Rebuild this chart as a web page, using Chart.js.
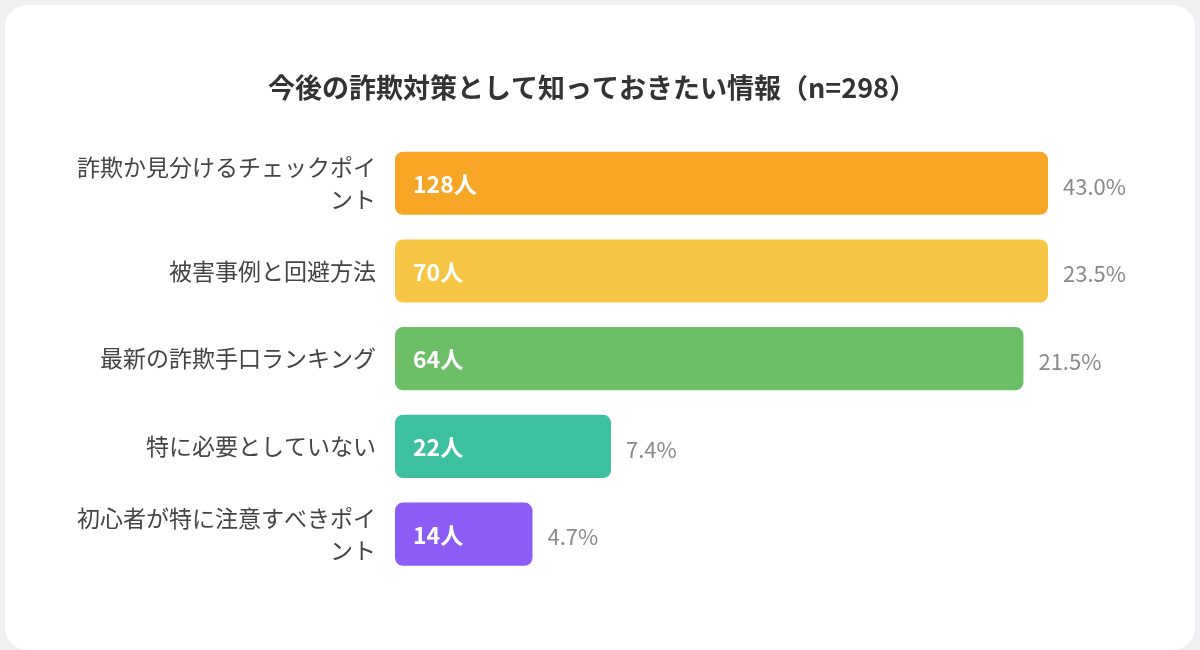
<!DOCTYPE html>
<html lang="ja">
<head>
<meta charset="UTF-8">
<title>今後の詐欺対策として知っておきたい情報</title>
<script src="https://cdn.jsdelivr.net/npm/chart.js@4.4.1/dist/chart.umd.min.js"></script>
<style>
    html, body {
        margin: 0;
        padding: 0;
        width: 1200px;
        height: 650px;
        overflow: hidden;
        background: #f0f0f2;
    }
    .card {
        position: absolute;
        left: 5px;
        top: 5px;
        width: 1190px;
        height: 645px;
        background: #ffffff;
        border-radius: 22px;
    }
    #chartBox {
        position: absolute;
        left: 0;
        top: 0;
        width: 1200px;
        height: 650px;
    }
</style>
</head>
<body>
<div class="card"></div>
<div id="chartBox"><canvas id="infoChart"></canvas></div>
<script>
// 項目ラベル（長いものは2行）
const categories = [
    ['詐欺か見分けるチェックポイ', 'ント'],
    '被害事例と回避方法',
    '最新の詐欺手口ランキング',
    '特に必要としていない',
    ['初心者が特に注意すべきポイ', 'ント']
];
// 人数
const counts = [128, 70, 64, 22, 14];
// 割合（%）
const percents = [43.0, 23.5, 21.5, 7.4, 4.7];
const barColors = ['#f6a524', '#f7c644', '#6cbe67', '#3cc0a0', '#8b5cf6'];

// 横軸の上限（上位2本はここで頭打ちになる）
const X_MAX = 66.5;

const FONT = '"Noto Sans CJK JP", "Noto Sans", sans-serif';

// バー内の人数とバー右の割合を描く
const valueLabels = {
    id: 'valueLabels',
    afterDatasetsDraw(chart) {
        const ctx = chart.ctx;
        const meta = chart.getDatasetMeta(0);
        ctx.save();
        ctx.textBaseline = 'middle';
        meta.data.forEach((bar, i) => {
            ctx.font = 'bold 23px ' + FONT;
            ctx.fillStyle = '#ffffff';
            ctx.textAlign = 'left';
            ctx.fillText(counts[i] + '人', bar.base + 18, bar.y + 1);

            ctx.font = '22px ' + FONT;
            ctx.fillStyle = '#8a8a8e';
            ctx.fillText(percents[i].toFixed(1) + '%', bar.x + 15, bar.y + 3);
        });
        ctx.restore();
    }
};

new Chart(document.getElementById('infoChart'), {
    type: 'bar',
    data: {
        labels: categories,
        datasets: [{
            data: counts.map(v => Math.min(v, X_MAX)),
            backgroundColor: barColors,
            borderRadius: 8,
            borderSkipped: false,
            barPercentage: 0.8,
            categoryPercentage: 0.9
        }]
    },
    options: {
        indexAxis: 'y',
        responsive: true,
        maintainAspectRatio: false,
        animation: false,
        layout: {
            padding: { left: 0, right: 16, top: 0, bottom: 72 }
        },
        plugins: {
            legend: { display: false },
            tooltip: { enabled: false },
            title: {
                display: true,
                text: '今後の詐欺対策として知っておきたい情報（n=298）',
                color: '#333333',
                font: { family: FONT, size: 27, weight: 'bold', lineHeight: 1.2 },
                padding: { top: 72, bottom: 35 }
            }
        },
        scales: {
            x: {
                display: false,
                min: 0,
                max: X_MAX
            },
            y: {
                grid: { display: false },
                border: { display: false },
                ticks: {
                    color: '#444444',
                    padding: 11,
                    font: { family: FONT, size: 23, lineHeight: 1.4 }
                },
                afterFit(scale) {
                    scale.width = 395;
                }
            },
            // 右側の割合ラベル用の余白
            yRight: {
                axis: 'y',
                type: 'category',
                position: 'right',
                grid: { display: false },
                border: { display: false },
                ticks: { display: false },
                afterFit(scale) {
                    scale.width = 136;
                }
            }
        }
    },
    plugins: [valueLabels]
});
</script>
</body>
</html>
